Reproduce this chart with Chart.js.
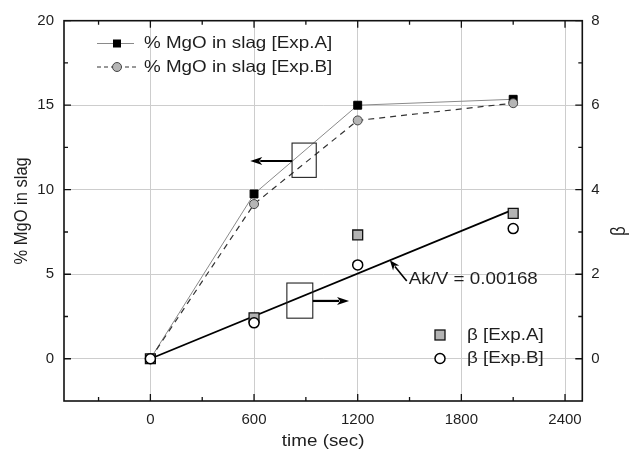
<!DOCTYPE html>
<html>
<head>
<meta charset="utf-8">
<script src="https://cdn.jsdelivr.net/npm/chart.js@4/dist/chart.umd.min.js"></script>
<style>
  html, body { margin: 0; padding: 0; background: #fff; }
  canvas { display: block; }
</style>
</head>
<body>
<canvas id="chart" width="630" height="450"></canvas>
<script>
// Sampling times (s)
const timeSec = [0, 600, 1200, 2100];
// % MgO in slag
const mgoExpA = [0, 9.75, 15.0, 15.35];
const mgoExpB = [0, 9.15, 14.1, 15.12];
// beta values
const betaExpA = [0, 0.97, 2.93, 3.44];
const betaExpB = [0, 0.85, 2.22, 3.08];
// linear fit beta = (Ak/V) * t
const fitSlope = 0.00168;
const fitTimes = [0, 2100];
// axis ticks
const xTicks = [0, 600, 1200, 1800, 2400];
const xMinorTicks = [-300, 300, 900, 1500, 2100];
const yLeftTicks = [0, 5, 10, 15, 20];
const yLeftMinorTicks = [2.5, 7.5, 12.5, 17.5];
const yRightTicks = [0, 2, 4, 6, 8];
const yRightMinorTicks = [1, 3, 5, 7];

const FONT = '"Liberation Sans", Arial, Helvetica, sans-serif';
const TEXT = '#1e1e1e';
const STRETCH = 1.14;

function pts(xs, ys) { return xs.map((v, i) => ({ x: v, y: ys[i] })); }

function label(ctx, str, x, y, size, align, rot) {
  ctx.save();
  ctx.translate(x, y);
  ctx.scale(STRETCH, 1);
  if (rot) ctx.rotate(rot);
  ctx.font = size + 'px ' + FONT;
  ctx.fillStyle = TEXT;
  ctx.textAlign = align || 'left';
  ctx.textBaseline = 'middle';
  ctx.fillText(str, 0, 0);
  ctx.restore();
}

function arrow(ctx, x0, y0, x1, y1, lw, headLen, headHalf) {
  const a = Math.atan2(y1 - y0, x1 - x0);
  const bx = x1 - Math.cos(a) * headLen, by = y1 - Math.sin(a) * headLen;
  ctx.save();
  ctx.strokeStyle = '#000';
  ctx.fillStyle = '#000';
  ctx.lineWidth = lw;
  ctx.beginPath();
  ctx.moveTo(x0, y0);
  ctx.lineTo(bx + Math.cos(a) * 2, by + Math.sin(a) * 2);
  ctx.stroke();
  ctx.beginPath();
  ctx.moveTo(x1, y1);
  ctx.lineTo(bx + Math.sin(a) * headHalf, by - Math.cos(a) * headHalf);
  ctx.lineTo(bx + Math.cos(a) * 3, by + Math.sin(a) * 3);
  ctx.lineTo(bx - Math.sin(a) * headHalf, by + Math.cos(a) * headHalf);
  ctx.closePath();
  ctx.fill();
  ctx.restore();
}

// Box frame with inward major/minor ticks on all four sides
const framePlugin = {
  id: 'frame',
  afterDatasetsDraw(chart) {
    const { ctx, chartArea: a, scales } = chart;
    const MAJ = 7, MIN = 4;
    ctx.save();
    ctx.strokeStyle = '#111';
    ctx.lineWidth = 1.3;
    ctx.beginPath();
    const xt = (v, len) => {
      const px = scales.x.getPixelForValue(v);
      ctx.moveTo(px, a.bottom); ctx.lineTo(px, a.bottom - len);
      ctx.moveTo(px, a.top); ctx.lineTo(px, a.top + len);
    };
    xTicks.forEach(v => xt(v, MAJ));
    xMinorTicks.forEach(v => xt(v, MIN));
    const yl = (v, len) => {
      const py = scales.y.getPixelForValue(v);
      ctx.moveTo(a.left, py); ctx.lineTo(a.left + len, py);
    };
    yLeftTicks.forEach(v => yl(v, MAJ));
    yLeftMinorTicks.forEach(v => yl(v, MIN));
    const yr = (v, len) => {
      const py = scales.y2.getPixelForValue(v);
      ctx.moveTo(a.right, py); ctx.lineTo(a.right - len, py);
    };
    yRightTicks.forEach(v => yr(v, MAJ));
    yRightMinorTicks.forEach(v => yr(v, MIN));
    ctx.stroke();
    ctx.lineWidth = 1.6;
    ctx.strokeRect(a.left, a.top, a.right - a.left, a.bottom - a.top);
    ctx.restore();
  }
};

// Direction boxes, arrows and the fit label
const notesPlugin = {
  id: 'notes',
  afterDatasetsDraw(chart) {
    const { ctx, scales: { x, y, y2 } } = chart;
    ctx.save();
    ctx.strokeStyle = '#222';
    ctx.lineWidth = 1.1;
    // box pointing to the left axis
    const b1l = x.getPixelForValue(820), b1r = x.getPixelForValue(960);
    const b1t = y.getPixelForValue(12.76), b1b = y.getPixelForValue(10.73);
    ctx.strokeRect(b1l, b1t, b1r - b1l, b1b - b1t);
    // box pointing to the right axis
    const b2l = x.getPixelForValue(790), b2r = x.getPixelForValue(940);
    const b2t = y.getPixelForValue(4.48), b2b = y.getPixelForValue(2.4);
    ctx.strokeRect(b2l, b2t, b2r - b2l, b2b - b2t);
    ctx.restore();

    const a1y = y.getPixelForValue(11.7);
    arrow(ctx, b1l, a1y, x.getPixelForValue(578), a1y, 2.2, 12, 4);
    const a2y = y.getPixelForValue(3.42);
    arrow(ctx, b2r, a2y, x.getPixelForValue(1150), a2y, 2.2, 12, 4);

    // pointer to the fit line
    const tipT = 1386;
    arrow(ctx, x.getPixelForValue(1484), y2.getPixelForValue(1.84),
               x.getPixelForValue(tipT), y2.getPixelForValue(fitSlope * tipT), 1.6, 10, 4);
    label(ctx, 'Ak/V = 0.00168', x.getPixelForValue(1495), y2.getPixelForValue(1.88), 16.5, 'left');
  }
};

// Legends and axis titles
const legendPlugin = {
  id: 'legends',
  afterDraw(chart) {
    const { ctx, chartArea: a } = chart;
    ctx.save();
    // upper legend
    ctx.strokeStyle = '#8a8a8a'; ctx.lineWidth = 1;
    ctx.beginPath(); ctx.moveTo(97, 43.5); ctx.lineTo(134, 43.5); ctx.stroke();
    ctx.fillStyle = '#000';
    ctx.fillRect(113, 39.5, 8, 8);
    ctx.strokeStyle = '#333'; ctx.setLineDash([4, 3]);
    ctx.beginPath(); ctx.moveTo(97, 67); ctx.lineTo(137, 67); ctx.stroke();
    ctx.setLineDash([]);
    ctx.beginPath(); ctx.arc(117, 67, 4.5, 0, Math.PI * 2);
    ctx.fillStyle = '#b5b5b5'; ctx.fill();
    ctx.strokeStyle = '#444'; ctx.lineWidth = 1; ctx.stroke();
    // lower legend
    ctx.fillStyle = '#b3b3b3';
    ctx.fillRect(435, 330, 10, 10);
    ctx.strokeStyle = '#111'; ctx.lineWidth = 1.3;
    ctx.strokeRect(435, 330, 10, 10);
    ctx.beginPath(); ctx.arc(440, 358.5, 5, 0, Math.PI * 2);
    ctx.fillStyle = '#fff'; ctx.fill();
    ctx.strokeStyle = '#000'; ctx.lineWidth = 1.5; ctx.stroke();
    ctx.restore();

    label(ctx, '% MgO in slag [Exp.A]', 144, 43.5, 16.5, 'left');
    label(ctx, '% MgO in slag [Exp.B]', 144, 67, 16.5, 'left');
    label(ctx, '\u03B2 [Exp.A]', 467, 335, 16.5, 'left');
    label(ctx, '\u03B2 [Exp.B]', 467, 358.5, 16.5, 'left');

    // axis titles
    label(ctx, 'time (sec)', (a.left + a.right) / 2, 441.5, 16.5, 'center');
    label(ctx, '% MgO in slag', 22, (a.top + a.bottom) / 2, 16.5, 'center', -Math.PI / 2);
    label(ctx, '\u03B2', 620, 231, 17, 'center', -Math.PI / 2);
  }
};

const tickFont = { family: FONT, size: 15 };

new Chart(document.getElementById('chart'), {
  type: 'scatter',
  data: {
    datasets: [
      {
        label: '\u03B2 [Exp.B]',
        data: pts(timeSec, betaExpB),
        yAxisID: 'y2',
        showLine: false,
        pointStyle: 'circle',
        pointRadius: 5,
        pointBackgroundColor: '#fff',
        pointBorderColor: '#000',
        pointBorderWidth: 1.5,
        order: 1
      },
      {
        label: '\u03B2 [Exp.A]',
        data: pts(timeSec, betaExpA),
        yAxisID: 'y2',
        showLine: false,
        pointStyle: 'rect',
        pointRadius: 7,
        pointBackgroundColor: '#b3b3b3',
        pointBorderColor: '#111',
        pointBorderWidth: 1.3,
        order: 2
      },
      {
        label: '% MgO in slag [Exp.B]',
        data: pts(timeSec, mgoExpB),
        yAxisID: 'y',
        showLine: true,
        borderColor: '#333',
        borderWidth: 1.2,
        borderDash: [6, 5],
        pointStyle: 'circle',
        pointRadius: 4.5,
        pointBackgroundColor: '#b5b5b5',
        pointBorderColor: '#444',
        pointBorderWidth: 1,
        order: 3
      },
      {
        label: '% MgO in slag [Exp.A]',
        data: pts(timeSec, mgoExpA),
        yAxisID: 'y',
        showLine: true,
        borderColor: '#8a8a8a',
        borderWidth: 1,
        pointStyle: 'rect',
        pointRadius: 5.6,
        pointBackgroundColor: '#000',
        pointBorderColor: '#000',
        pointBorderWidth: 1,
        order: 4
      },
      {
        label: 'Ak/V fit',
        data: fitTimes.map(t => ({ x: t, y: fitSlope * t })),
        yAxisID: 'y2',
        showLine: true,
        borderColor: '#000',
        borderWidth: 1.8,
        pointRadius: 0,
        order: 5
      }
    ]
  },
  options: {
    responsive: false,
    animation: false,
    events: [],
    layout: { padding: { top: 20.7, left: 0, right: 0, bottom: 0 } },
    plugins: { legend: { display: false }, tooltip: { enabled: false } },
    scales: {
      x: {
        type: 'linear',
        position: 'bottom',
        min: -500,
        max: 2500,
        afterBuildTicks: s => { s.ticks = xTicks.map(v => ({ value: v })); },
        afterFit: s => { s.height = 49; },
        ticks: { font: tickFont, color: TEXT, padding: 10, maxRotation: 0, autoSkip: false, callback: v => String(v) },
        grid: { color: '#cdcdcd', lineWidth: 1, drawTicks: false },
        border: { display: false }
      },
      y: {
        type: 'linear',
        position: 'left',
        min: -2.5,
        max: 20,
        afterBuildTicks: s => { s.ticks = yLeftTicks.map(v => ({ value: v })); },
        afterFit: s => { s.width = 64; },
        ticks: { font: tickFont, color: TEXT, padding: 10, autoSkip: false, callback: v => String(v) },
        grid: { color: '#cdcdcd', lineWidth: 1, drawTicks: false },
        border: { display: false }
      },
      y2: {
        type: 'linear',
        position: 'right',
        min: -1,
        max: 8,
        afterBuildTicks: s => { s.ticks = yRightTicks.map(v => ({ value: v })); },
        afterFit: s => { s.width = 47.7; },
        ticks: { font: tickFont, color: TEXT, padding: 9, autoSkip: false, callback: v => String(v) },
        grid: { display: false, drawTicks: false },
        border: { display: false }
      }
    }
  },
  plugins: [framePlugin, notesPlugin, legendPlugin]
});
</script>
</body>
</html>
